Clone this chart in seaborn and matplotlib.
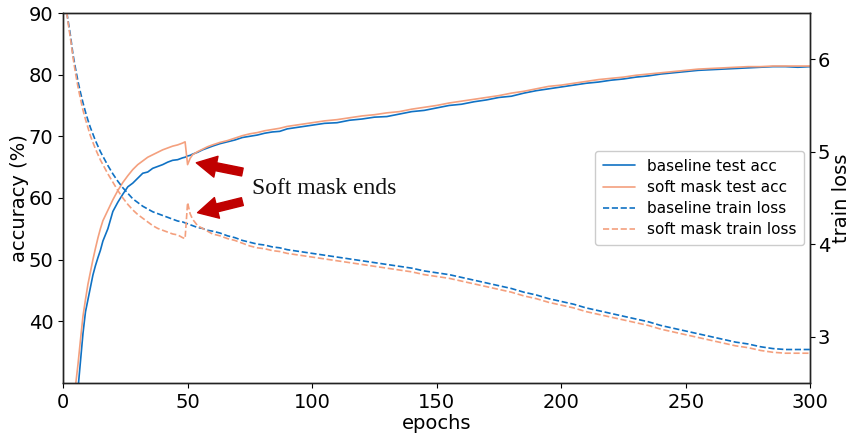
import numpy as np
import pandas as pd
import matplotlib
matplotlib.use('Agg')
import matplotlib.pyplot as plt
import seaborn as sns

epochs = [1, 2, 3, 4, 5, 6, 7, 8, 9, 10, 11, 12, 13, 14, 15, 16,
          18, 20, 22, 24, 26, 28, 30, 32, 34, 36, 38, 40, 42, 44, 46, 48,
          49, 50, 51, 52, 54, 56, 58, 60,
          63, 66, 69, 72, 75, 78, 81, 84, 87, 90,
          95, 100, 105, 110, 115, 120, 125, 130, 135, 140, 145, 150, 155, 160,
          165, 170, 175, 180, 185, 190, 195, 200, 205, 210, 215, 220, 225, 230,
          235, 240, 245, 250, 255, 260, 265, 270, 275, 280, 285, 290, 295, 300]

base_acc = [10, 15, 19, 23, 26, 29, 33.5, 38, 41.5, 43.5, 45.5, 47.5, 49, 50.3, 51.5, 53,
            55, 57.8, 59.3, 60.6, 61.8, 62.4, 63.2, 64.0, 64.2, 64.8, 65.1, 65.4, 65.8, 66.1, 66.2, 66.5,
            66.6, 66.8, 66.9, 67.1, 67.4, 67.8, 68.1, 68.4,
            68.8, 69.1, 69.4, 69.8, 70.0, 70.2, 70.5, 70.7, 70.8, 71.2,
            71.5, 71.8, 72.1, 72.2, 72.6, 72.8, 73.1, 73.2, 73.6, 74.0, 74.2, 74.6, 75.0, 75.2,
            75.6, 75.9, 76.3, 76.5, 77.0, 77.4, 77.7, 78.0, 78.3, 78.6, 78.8, 79.1, 79.3, 79.6,
            79.8, 80.1, 80.3, 80.5, 80.7, 80.8, 80.9, 81.0, 81.1, 81.2, 81.3, 81.3, 81.2, 81.3]

soft_acc = [12, 17, 22, 26, 29.5, 33, 37, 40.8, 43.5, 46, 48, 50, 51.8, 53.5, 55, 56.3,
            58, 59.7, 61.2, 62.5, 63.6, 64.6, 65.4, 66.0, 66.6, 67.0, 67.4, 67.8, 68.1, 68.4, 68.6, 68.9,
            69.1, 65.4, 66.4, 67.0, 67.5, 67.9, 68.3, 68.6,
            69.0, 69.3, 69.7, 70.1, 70.4, 70.6, 70.9, 71.1, 71.3, 71.6,
            71.9, 72.2, 72.5, 72.7, 73.0, 73.3, 73.5, 73.8, 74.0, 74.4, 74.7, 75.0, 75.4, 75.7,
            76.0, 76.3, 76.6, 77.0, 77.3, 77.7, 78.1, 78.3, 78.6, 78.9, 79.2, 79.4, 79.6, 79.9,
            80.1, 80.3, 80.5, 80.7, 80.9, 81.0, 81.1, 81.2, 81.3, 81.3, 81.4, 81.4, 81.4, 81.4]

base_loss = [6.6, 6.42, 6.25, 6.05, 5.90, 5.76, 5.64, 5.53, 5.43, 5.34, 5.26, 5.19, 5.12, 5.06, 5.00, 4.95,
             4.85, 4.76, 4.68, 4.61, 4.55, 4.49, 4.45, 4.41, 4.38, 4.35, 4.33, 4.31, 4.29, 4.27, 4.25, 4.24,
             4.23, 4.22, 4.21, 4.20, 4.18, 4.17, 4.15, 4.14,
             4.12, 4.09, 4.07, 4.04, 4.02, 4.00, 3.99, 3.97, 3.96, 3.94,
             3.92, 3.90, 3.88, 3.86, 3.84, 3.82, 3.80, 3.78, 3.76, 3.74, 3.71, 3.69, 3.67, 3.64,
             3.61, 3.58, 3.55, 3.52, 3.48, 3.45, 3.41, 3.38, 3.35, 3.31, 3.28, 3.25, 3.22, 3.19,
             3.16, 3.12, 3.09, 3.06, 3.03, 3.00, 2.97, 2.94, 2.92, 2.89, 2.87, 2.86, 2.86, 2.86]

soft_loss = [6.6, 6.40, 6.22, 6.02, 5.85, 5.70, 5.57, 5.45, 5.35, 5.26, 5.17, 5.10, 5.03, 4.97, 4.91, 4.86,
             4.76, 4.67, 4.58, 4.50, 4.43, 4.37, 4.32, 4.28, 4.24, 4.20, 4.17, 4.15, 4.13, 4.11, 4.10, 4.07,
             4.06, 4.45, 4.33, 4.27, 4.20, 4.17, 4.14, 4.11,
             4.09, 4.06, 4.04, 4.01, 3.98, 3.96, 3.95, 3.93, 3.92, 3.90,
             3.88, 3.86, 3.84, 3.82, 3.80, 3.78, 3.76, 3.74, 3.72, 3.70, 3.67, 3.65, 3.63, 3.60,
             3.57, 3.54, 3.51, 3.48, 3.44, 3.41, 3.37, 3.34, 3.31, 3.27, 3.24, 3.21, 3.18, 3.15,
             3.12, 3.08, 3.05, 3.02, 2.99, 2.96, 2.93, 2.90, 2.88, 2.85, 2.83, 2.82, 2.82, 2.82]

blue = '#1072c4'
orange = '#f4a07e'

df = pd.DataFrame({'epoch': epochs, 'base_acc': base_acc, 'soft_acc': soft_acc,
                   'base_loss': base_loss, 'soft_loss': soft_loss})

sns.set_style('ticks')
plt.rcParams['font.family'] = ['DejaVu Sans']
plt.rcParams['text.color'] = 'black'
plt.rcParams['axes.labelcolor'] = 'black'
plt.rcParams['xtick.color'] = 'black'
plt.rcParams['ytick.color'] = 'black'

fig, ax = plt.subplots(figsize=(8.52, 4.34), dpi=100)
fig.subplots_adjust(left=0.074, right=0.951, top=0.970, bottom=0.118)
ax2 = ax.twinx()

sns.lineplot(data=df, x='epoch', y='base_acc', ax=ax, color=blue, lw=1.2, label='baseline test acc')
sns.lineplot(data=df, x='epoch', y='soft_acc', ax=ax, color=orange, lw=1.2, label='soft mask test acc')
sns.lineplot(data=df, x='epoch', y='base_loss', ax=ax2, color=blue, lw=1.2, ls='--', label='baseline train loss')
sns.lineplot(data=df, x='epoch', y='soft_loss', ax=ax2, color=orange, lw=1.2, ls='--', label='soft mask train loss')

ax.set_xlim(0, 300)
ax.set_ylim(30, 90)
ax2.set_ylim(2.5, 6.5)
ax.set_xticks([0, 50, 100, 150, 200, 250, 300])
ax.set_yticks([40, 50, 60, 70, 80, 90])
ax2.set_yticks([3, 4, 5, 6])

ax.set_xlabel('epochs', fontsize=14, labelpad=2)
ax.set_ylabel('accuracy (%)', fontsize=14, labelpad=0)
ax2.set_ylabel('train loss', fontsize=14, labelpad=1)
ax.tick_params(labelsize=14, length=3.5, width=0.8)
ax2.tick_params(labelsize=14, length=3.5, width=0.8, pad=2)
for a in (ax, ax2):
    for s in a.spines.values():
        s.set_linewidth(1.0)
        s.set_color('#222222')

h1, l1 = ax.get_legend_handles_labels()
h2, l2 = ax2.get_legend_handles_labels()
ax.get_legend().remove()
ax2.get_legend().remove()
ax2.legend(h1 + h2, l1 + l2, loc='center right', fontsize=11, framealpha=1,
           handlelength=2.1, borderpad=0.5, labelspacing=0.4, borderaxespad=0.4)

# red arrows pointing at the jump when the soft mask ends
arrow = dict(arrowstyle='simple,head_length=0.8,head_width=0.85,tail_width=0.32',
             color='#c00000', mutation_scale=18, shrinkA=0, shrinkB=0)
ax.annotate('', xy=(53.5, 65.7), xytext=(72.0, 64.2), arrowprops=arrow)
ax.annotate('', xy=(54.0, 57.6), xytext=(72.0, 59.4), arrowprops=arrow)
ax.text(76, 61.5, 'Soft mask ends', fontsize=17, family='Liberation Serif',
        va='center', ha='left', color='#111111')

plt.savefig('out.png', dpi=100)
